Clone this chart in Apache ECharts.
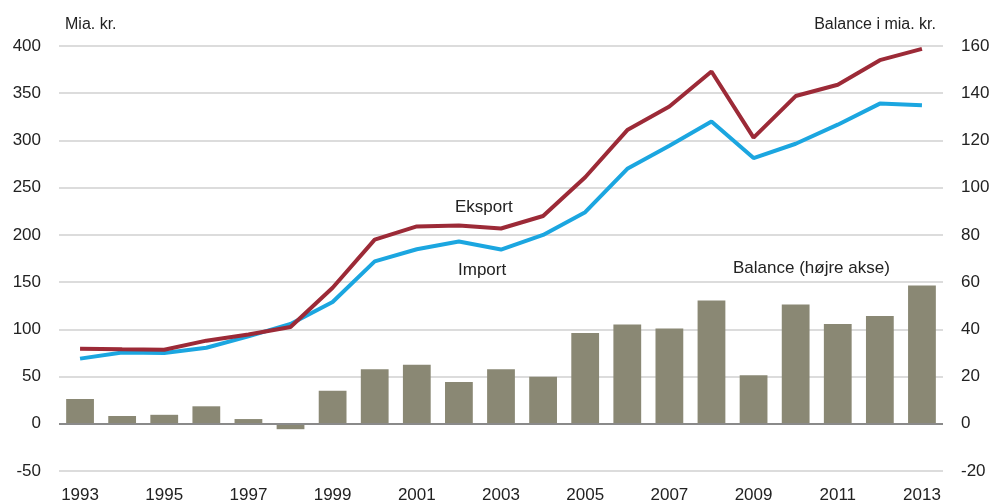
<!DOCTYPE html>
<html><head><meta charset="utf-8">
<script src="https://cdn.jsdelivr.net/npm/echarts@6/dist/echarts.min.js"></script>
<style>html,body{margin:0;padding:0;background:#fff}#c{width:991px;height:504px}</style>
</head><body><div id="c"></div>
<script>
const years = ['1993','1994','1995','1996','1997','1998','1999','2000','2001','2002','2003','2004','2005','2006','2007','2008','2009','2010','2011','2012','2013'];
const eksport = [79.4,78.8,78.4,88,94.5,102.5,144,195,209,210,206.8,220,261,311,336,373,303,347,359,385,397];
const importVals = [69,75.5,74.9,80.5,92.6,105.7,129,172,184.8,193,184.5,200,224,270,294.4,320,281.3,296.5,316.7,339,337.2];
const balance = [10.5,3.3,3.8,7.4,2.0,-2.3,14.0,23.1,25.0,17.7,23.1,19.9,38.5,42.1,40.4,52.2,20.6,50.5,42.3,45.7,58.6];
const leftTicks = {min:-50, max:400, interval:50};
const rightTicks = {min:-20, max:160, interval:20};

const font = '"Liberation Sans", Arial, sans-serif';
const chart = echarts.init(document.getElementById('c'), null, {renderer:'canvas'});
chart.setOption({
  animation:false,
  grid:{left:59, right:48, top:46, bottom:33, containLabel:false, outerBoundsMode:'none'},
  xAxis:{
    type:'category', data:years, boundaryGap:true,
    axisLine:{show:false, onZero:false},
    axisTick:{show:false},
    axisLabel:{interval:1, color:'#222', fontSize:17, fontFamily:font, margin:16}
  },
  yAxis:[{
    type:'value', min:leftTicks.min, max:leftTicks.max, interval:leftTicks.interval,
    axisLine:{show:false}, axisTick:{show:false},
    splitLine:{lineStyle:{color:'#dcdcdc', width:2}},
    axisLabel:{color:'#222', fontSize:17, fontFamily:font, margin:18}
  },{
    type:'value', min:rightTicks.min, max:rightTicks.max, interval:rightTicks.interval,
    axisLine:{show:false}, axisTick:{show:false}, splitLine:{show:false},
    axisLabel:{color:'#222', fontSize:17, fontFamily:font, margin:18}
  }],
  series:[{
    name:'Balance (højre akse)', type:'bar', yAxisIndex:1, data:balance,
    barWidth:'66%', itemStyle:{color:'#8a8874'}, z:1,
    markLine:{silent:true, symbol:'none', label:{show:false},
      lineStyle:{color:'#8a8a8a', width:2, type:'solid'}, data:[{yAxis:0}]}
  },{
    name:'Import', type:'line', data:importVals, symbol:'none',
    lineStyle:{color:'#1ba6e0', width:4}, itemStyle:{color:'#1ba6e0'}, z:3
  },{
    name:'Eksport', type:'line', data:eksport, symbol:'none',
    lineStyle:{color:'#9c2a37', width:4}, itemStyle:{color:'#9c2a37'}, z:4
  }],
  graphic:[
    {type:'text', left:65, top:17, style:{text:'Mia. kr.', font:'16px '+font, fill:'#222'}},
    {type:'text', right:55, top:17, style:{text:'Balance i mia. kr.', font:'16px '+font, fill:'#222'}},
    {type:'text', left:455, top:199, style:{text:'Eksport', font:'17px '+font, fill:'#222'}},
    {type:'text', left:458, top:262, style:{text:'Import', font:'17px '+font, fill:'#222'}},
    {type:'text', left:733, top:260, style:{text:'Balance (højre akse)', font:'17px '+font, fill:'#222'}}
  ]
});
</script></body></html>
